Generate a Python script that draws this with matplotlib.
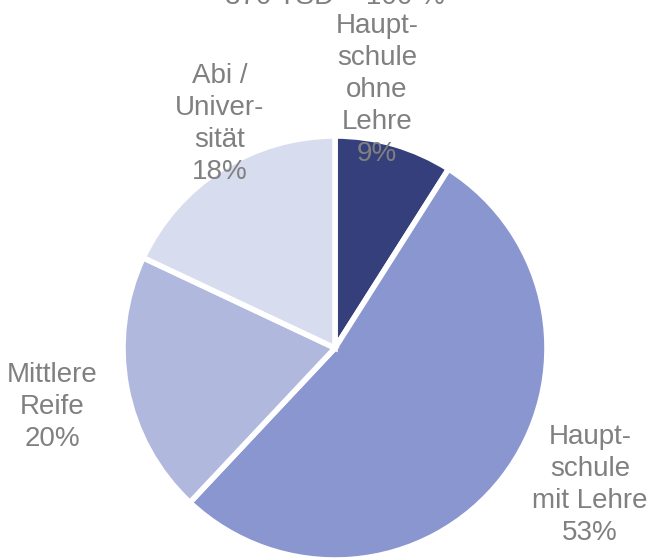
import matplotlib
matplotlib.use('Agg')
import matplotlib.pyplot as plt

plt.rcParams['font.family'] = ['Liberation Sans', 'DejaVu Sans']

# ── data ──────────────────────────────────────────────────────────────────────
categories = ['Haupt-\nschule\nohne\nLehre', 'Haupt-\nschule\nmit Lehre',
              'Mittlere\nReife', 'Abi /\nUniver-\nsität']
shares = [9, 53, 20, 18]
colours = ['#353f7b', '#8a96cf', '#b1b8de', '#d8dcef']
title = '370 TSD = 100 %'

# label centres in pixel space (x, y from top)
label_pos = [(377, 90), (590, 485), (52, 407), (220, 124)]

GREY = '#808080'

W, H = 649, 559
fig = plt.figure(figsize=(W / 100, H / 100), dpi=100)
ax = fig.add_axes([0, 0, 1, 1])

ax.pie(shares, colors=colours, startangle=90, counterclock=False,
       center=(335, H - 348), radius=212, frame=True,
       wedgeprops=dict(edgecolor='white', linewidth=4))
ax.set_xlim(0, W)
ax.set_ylim(0, H)
ax.set_aspect('equal')
ax.axis('off')

for cat, val, (px, py) in zip(categories, shares, label_pos):
    ax.text(px, H - py, f'{cat}\n{val}%', ha='center', va='center',
            fontsize=20, color=GREY, linespacing=1.3)

# title sits mostly above the canvas, as in the original export
ax.text(335, H - 4, title, ha='center', va='baseline', fontsize=20,
        color=GREY)

fig.savefig('out.png', dpi=100)
